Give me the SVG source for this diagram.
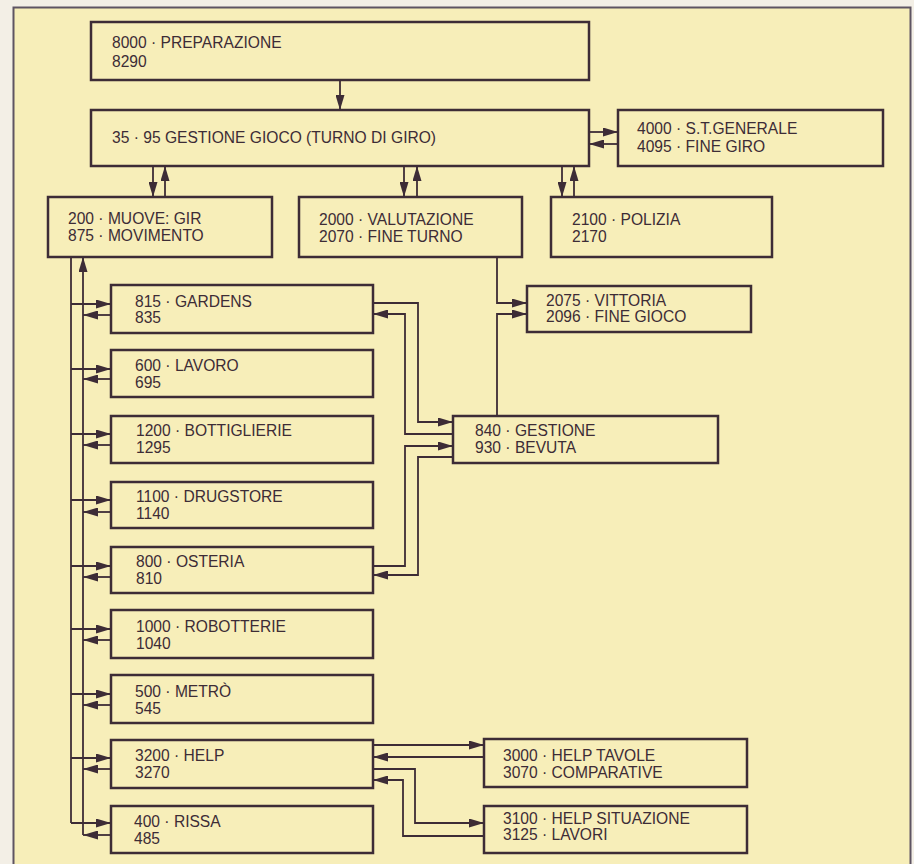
<svg xmlns="http://www.w3.org/2000/svg" width="914" height="864" viewBox="0 0 914 864">
<style>
.bx{fill:none;stroke:#3d2c36;stroke-width:2.5}
.t{font-family:"Liberation Sans",Arial,sans-serif;font-size:15.6px;fill:#3d2c36}
.c{fill:none;stroke:#3d2c36;stroke-width:1.8}
.a{marker-end:url(#ah)}
</style>
<defs>
<marker id="ah" markerUnits="userSpaceOnUse" markerWidth="16" markerHeight="9" refX="15" refY="4.5" orient="auto">
<path d="M0,0 L15,4.5 L0,9 z" fill="#3d2c36"/>
</marker>
</defs>
<rect x="0" y="0" width="914" height="864" fill="#f3efe6"/>
<rect x="13.5" y="7.5" width="897" height="870" fill="#f7eeb9" stroke="#5e5462" stroke-width="2"/>

<g id="n-prep"><rect class="bx" x="91" y="22" width="498" height="58"/><text class="t" x="112" y="48">8000 · PREPARAZIONE</text><text class="t" x="112" y="67">8290</text></g>
<g id="n-gest"><rect class="bx" x="91" y="110" width="498" height="56"/><text class="t" x="112" y="143">35 · 95 GESTIONE GIOCO (TURNO DI GIRO)</text></g>
<g id="n-stgen"><rect class="bx" x="618" y="110" width="265" height="56"/><text class="t" x="637" y="134">4000 · S.T.GENERALE</text><text class="t" x="637" y="152">4095 · FINE GIRO</text></g>
<g id="n-muove"><rect class="bx" x="48" y="197" width="224" height="60"/><text class="t" x="68" y="224">200 · MUOVE: GIR</text><text class="t" x="68" y="241">875 · MOVIMENTO</text></g>
<g id="n-valut"><rect class="bx" x="299" y="197" width="223" height="60"/><text class="t" x="319" y="225">2000 · VALUTAZIONE</text><text class="t" x="319" y="242">2070 · FINE TURNO</text></g>
<g id="n-poliz"><rect class="bx" x="551" y="197" width="221" height="60"/><text class="t" x="572" y="225">2100 · POLIZIA</text><text class="t" x="572" y="242">2170</text></g>
<g id="n-vitt"><rect class="bx" x="527" y="286" width="224" height="46"/><text class="t" x="546" y="306">2075 · VITTORIA</text><text class="t" x="546" y="322">2096 · FINE GIOCO</text></g>
<g id="n-gardens"><rect class="bx" x="111" y="285" width="262" height="48"/><text class="t" x="135" y="307">815 · GARDENS</text><text class="t" x="135" y="323">835</text></g>
<g id="n-lavoro"><rect class="bx" x="111" y="350" width="262" height="47"/><text class="t" x="135" y="371">600 · LAVORO</text><text class="t" x="135" y="388">695</text></g>
<g id="n-bott"><rect class="bx" x="111" y="416" width="262" height="47"/><text class="t" x="136" y="436">1200 · BOTTIGLIERIE</text><text class="t" x="136" y="453">1295</text></g>
<g id="n-drug"><rect class="bx" x="111" y="482" width="262" height="46"/><text class="t" x="136" y="502">1100 · DRUGSTORE</text><text class="t" x="136" y="519">1140</text></g>
<g id="n-oster"><rect class="bx" x="111" y="547" width="262" height="46"/><text class="t" x="136" y="567">800 · OSTERIA</text><text class="t" x="136" y="584">810</text></g>
<g id="n-robot"><rect class="bx" x="111" y="610" width="262" height="48"/><text class="t" x="136" y="632">1000 · ROBOTTERIE</text><text class="t" x="136" y="649">1040</text></g>
<g id="n-metro"><rect class="bx" x="111" y="675" width="262" height="48"/><text class="t" x="135" y="697">500 · METRÒ</text><text class="t" x="135" y="714">545</text></g>
<g id="n-help"><rect class="bx" x="111" y="740" width="262" height="48"/><text class="t" x="135" y="761">3200 · HELP</text><text class="t" x="135" y="778">3270</text></g>
<g id="n-rissa"><rect class="bx" x="111" y="806" width="262" height="47"/><text class="t" x="134" y="827">400 · RISSA</text><text class="t" x="134" y="844">485</text></g>
<g id="n-bevuta"><rect class="bx" x="453" y="416" width="265" height="47"/><text class="t" x="475" y="436">840 · GESTIONE</text><text class="t" x="475" y="453">930 · BEVUTA</text></g>
<g id="n-helptav"><rect class="bx" x="484" y="739" width="263" height="48"/><text class="t" x="503" y="761">3000 · HELP TAVOLE</text><text class="t" x="503" y="778">3070 · COMPARATIVE</text></g>
<g id="n-helpsit"><rect class="bx" x="484" y="806" width="263" height="47"/><text class="t" x="503" y="824">3100 · HELP SITUAZIONE</text><text class="t" x="503" y="840">3125 · LAVORI</text></g>

<g id="connectors">
<path class="c a" d="M340,80 V110"/>
<path class="c a" d="M153,166 V197"/>
<path class="c a" d="M165,197 V166"/>
<path class="c a" d="M404,166 V197"/>
<path class="c a" d="M417,197 V166"/>
<path class="c a" d="M562,166 V197"/>
<path class="c a" d="M574,197 V166"/>
<path class="c a" d="M589,132 H618"/>
<path class="c a" d="M618,144 H589"/>
<path class="c a" d="M497,257 V303 H527"/>
<path class="c a" d="M497,416 V314 H527"/>
<path class="c" d="M71,257 V823"/>
<path class="c a" d="M83,835 V257"/>
<path class="c a" d="M71,304 H111"/><path class="c a" d="M111,315 H83"/>
<path class="c a" d="M71,369 H111"/><path class="c a" d="M111,379 H83"/>
<path class="c a" d="M71,434 H111"/><path class="c a" d="M111,445 H83"/>
<path class="c a" d="M71,500 H111"/><path class="c a" d="M111,512 H83"/>
<path class="c a" d="M71,566 H111"/><path class="c a" d="M111,577 H83"/>
<path class="c a" d="M71,629 H111"/><path class="c a" d="M111,640 H83"/>
<path class="c a" d="M71,694 H111"/><path class="c a" d="M111,705 H83"/>
<path class="c a" d="M71,758 H111"/><path class="c a" d="M111,769 H83"/>
<path class="c a" d="M71,823 H111"/><path class="c a" d="M111,835 H83"/>
<path class="c a" d="M373,303 H418 V422 H453"/>
<path class="c a" d="M453,434 H405 V314 H373"/>
<path class="c a" d="M373,566 H405 V446 H453"/>
<path class="c a" d="M453,457 H418 V575 H373"/>
<path class="c a" d="M373,745 H484"/>
<path class="c a" d="M484,757 H373"/>
<path class="c a" d="M373,769 H415 V823 H484"/>
<path class="c a" d="M484,836 H403 V780 H373"/>
</g>
</svg>
